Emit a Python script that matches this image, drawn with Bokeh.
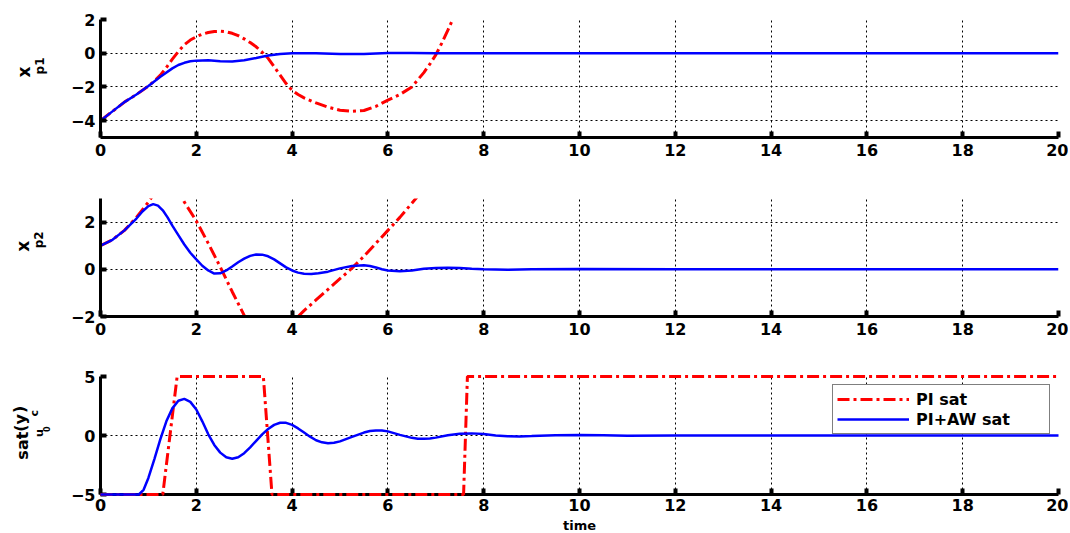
import math
from bokeh.plotting import figure
from bokeh.layouts import column, row
from bokeh.models import Range1d, Label, Legend, LegendItem, FixedTicker
from bokeh.embed import file_html
from bokeh.resources import INLINE

FONT = "DejaVu Sans"

# ---------------- data ----------------
x_ticks = [0, 2, 4, 6, 8, 10, 12, 14, 16, 18, 20]

# panel 1 : x_p1
t_p1_aw = [0, 0.25, 0.5, 0.75, 1.0, 1.25, 1.5, 1.625, 1.75, 1.875, 2.0, 2.25, 2.5, 2.75, 3.0, 3.25, 3.5, 3.75,
           4.0, 4.5, 5.0, 5.5, 6.0, 6.5, 7.0, 8, 10, 12, 14, 16, 18, 20]
xp1_aw = [-4, -3.45, -2.9, -2.45, -1.95, -1.4, -0.9, -0.7, -0.57, -0.48, -0.44, -0.42, -0.47, -0.49, -0.42, -0.28, -0.13, -0.04,
          0.0, 0.0, -0.05, -0.05, 0.02, 0.02, 0, 0, 0, 0, 0, 0, 0, 0]
t_p1_pi = [0, 0.25, 0.5, 0.75, 1.0, 1.125, 1.25, 1.375, 1.5, 1.625, 1.75, 1.875, 2.0, 2.125, 2.25, 2.375, 2.5,
           2.625, 2.75, 2.875, 3.0, 3.125, 3.25, 3.375, 3.5, 3.625, 3.75, 3.875, 4.0, 4.125, 4.25, 4.5, 4.75,
           5.0, 5.25, 5.5, 5.75, 6.0, 6.25, 6.5, 6.75, 6.875, 7.0, 7.125, 7.25, 7.375, 7.5]
xp1_pi = [-4, -3.45, -2.9, -2.45, -1.95, -1.65, -1.3, -0.85, -0.35, 0.1, 0.5, 0.78, 0.98, 1.13, 1.23, 1.29, 1.3,
          1.27, 1.18, 1.04, 0.85, 0.63, 0.38, 0.06, -0.3, -0.8, -1.3, -1.8, -2.2, -2.45, -2.65, -2.95, -3.2,
          -3.38, -3.45, -3.4, -3.15, -2.78, -2.45, -2.0, -1.15, -0.65, -0.1, 0.6, 1.35, 2.15, 2.9]

# panel 2 : x_p2
t_p2_aw = [0, 0.25, 0.5, 0.75, 0.875, 1.0, 1.1, 1.2, 1.3, 1.4, 1.5, 1.625, 1.75, 1.875, 2.0, 2.125, 2.25, 2.375,
           2.5, 2.625, 2.75, 2.875, 3.0, 3.125, 3.25, 3.375, 3.5, 3.625, 3.75, 3.875, 4.0, 4.125, 4.25, 4.4, 4.55,
           4.75, 5.0, 5.25, 5.5, 5.625, 5.75, 5.875, 6.0, 6.25, 6.5, 6.75, 7.0, 7.25, 7.5, 7.75, 8.0, 8.5, 9,
           10, 12, 14, 16, 18, 20]
xp2_aw = [1.0, 1.25, 1.65, 2.15, 2.45, 2.68, 2.76, 2.7, 2.5, 2.2, 1.85, 1.45, 1.05, 0.7, 0.42, 0.15, -0.05, -0.18,
          -0.17, -0.05, 0.12, 0.3, 0.45, 0.57, 0.63, 0.62, 0.55, 0.42, 0.25, 0.08, -0.05, -0.14, -0.19, -0.2, -0.17,
          -0.1, 0.04, 0.14, 0.17, 0.14, 0.08, 0.0, -0.05, -0.08, -0.05, 0.02, 0.06, 0.07, 0.05, 0.02, 0.0, -0.02, 0,
          0.01, 0, 0, 0, 0, 0]
t_p2_pi = [0, 0.25, 0.5, 0.75, 1.0, 1.25, 1.5, 1.75, 2.0, 2.25, 2.5, 2.75, 3.0, 3.25, 3.5, 3.75,
           4.0, 4.25, 4.5, 4.75, 5.0, 5.25, 5.5, 5.75, 6.0, 6.25, 6.5, 6.75]
xp2_pi = [1.0, 1.25, 1.65, 2.2, 2.85, 3.6, 4.0, 2.85, 2.05, 1.1, 0.1, -0.95, -1.95, -3.0, -3.3, -3.0,
          -2.25, -1.75, -1.3, -0.85, -0.4, 0.05, 0.55, 1.1, 1.65, 2.2, 2.8, 3.4]

# panel 3 : sat_u0(y_c)
t_u_aw = [0, 0.8, 0.9, 1.0, 1.125, 1.25, 1.375, 1.5, 1.625, 1.75, 1.875, 2.0, 2.125, 2.25, 2.375, 2.5, 2.625,
          2.75, 2.875, 3.0, 3.125, 3.25, 3.375, 3.5, 3.625, 3.75, 3.875, 4.0, 4.125, 4.25, 4.375, 4.5, 4.625,
          4.75, 4.875, 5.0, 5.25, 5.5, 5.625, 5.75, 5.875, 6.0, 6.25, 6.5, 6.625, 6.75, 6.875, 7.0, 7.25, 7.5,
          7.75, 8.0, 8.25, 8.5, 8.75, 9, 9.5, 10, 10.5, 11, 12, 13, 14, 16, 18, 20]
u_aw = [-5, -5, -4.6, -3.6, -2.0, -0.3, 1.2, 2.3, 2.95, 3.1, 2.85, 2.2, 1.2, 0.1, -0.8, -1.45, -1.85,
        -1.97, -1.85, -1.5, -1.0, -0.45, 0.1, 0.55, 0.9, 1.08, 1.07, 0.9, 0.6, 0.25, -0.1, -0.4, -0.58,
        -0.66, -0.62, -0.5, -0.12, 0.25, 0.38, 0.43, 0.42, 0.35, 0.05, -0.2, -0.27, -0.28, -0.25, -0.18, 0.02, 0.15,
        0.18, 0.12, 0.0, -0.07, -0.08, -0.05, 0.03, 0.05, 0.02, -0.02, 0.01, 0, 0, 0, 0, 0]
t_u_pi = [0, 1.3, 1.6, 3.4, 3.58, 7.58, 7.66, 20]
u_pi = [-5, -5, 5, 5, -5, -5, 5, 5]

RED = "#ff0000"
BLUE = "#0000ff"
RED_DASH = "12 4 3 4"
LABW = 58          # width of the strip that holds the y-axis titles
TOTW = 1068


def make_fig(height, top, bottom, yr, yticks, standoff=6):
    p = figure(width=TOTW - LABW, height=height, x_range=Range1d(0, 20), y_range=Range1d(*yr),
               output_backend="svg", toolbar_location=None,
               min_border_left=100 - LABW, min_border_right=10,
               min_border_top=top, min_border_bottom=bottom)
    p.outline_line_color = None
    p.background_fill_color = "white"
    p.border_fill_color = "white"
    p.xaxis.ticker = FixedTicker(ticks=x_ticks)
    p.yaxis.ticker = FixedTicker(ticks=yticks)
    for ax in (p.xaxis[0], p.yaxis[0]):
        ax.axis_line_width = 3
        ax.axis_line_color = "black"
        ax.major_tick_in = 6
        ax.major_tick_out = 0
        ax.major_tick_line_width = 4
        ax.major_tick_line_color = "black"
        ax.minor_tick_line_color = None
        ax.major_label_text_font = FONT
        ax.major_label_text_font_style = "bold"
        ax.major_label_text_font_size = "16px"
        ax.major_label_text_color = "black"
    p.xaxis.major_label_standoff = standoff
    p.yaxis.major_label_standoff = 5
    p.yaxis.major_label_overrides = {v: ("\u2212%d" % -v if v < 0 else str(v)) for v in yticks}
    p.grid.grid_line_color = "black"
    p.grid.grid_line_dash = "2 3"
    p.grid.grid_line_width = 1
    return p


def label_fig(height, width=LABW):
    f = figure(width=width, height=height, x_range=Range1d(0, width), y_range=Range1d(0, height),
               output_backend="svg", toolbar_location=None, x_axis_type=None, y_axis_type=None,
               min_border=0, min_border_left=0, min_border_right=0, min_border_top=0, min_border_bottom=0)
    f.outline_line_color = None
    f.grid.visible = False
    f.background_fill_color = "white"
    f.border_fill_color = "white"
    return f


def ylab(f, x, y, text, size):
    f.add_layout(Label(x=x, y=y, text=text, angle=math.pi / 2, text_align="center",
                       text_baseline="middle", text_font=FONT, text_font_style="bold",
                       text_font_size=size, text_color="black"))


# panel 1
H1 = 193
p1 = make_fig(H1, 19, 56, (-5, 2), [-4, -2, 0, 2])
p1.line(t_p1_pi, xp1_pi, line_color=RED, line_width=3, line_dash=RED_DASH)
p1.line(t_p1_aw, xp1_aw, line_color=BLUE, line_width=2.5)
l1 = label_fig(H1)
ylab(l1, 23.5, 107, "x", "17px")
ylab(l1, 39, 117, "p1", "12px")

# panel 2
H2 = 173
p2 = make_fig(H2, 5, 50, (-2, 3), [-2, 0, 2])
p2.line(t_p2_pi, xp2_pi, line_color=RED, line_width=3, line_dash=RED_DASH)
p2.line(t_p2_aw, xp2_aw, line_color=BLUE, line_width=2.5)
l2 = label_fig(H2)
ylab(l2, 22, 103, "x", "17px")
ylab(l2, 38.5, 112.5, "p2", "12px")

# panel 3
H3 = 151
p3 = make_fig(H3, 10, 23, (-5, 5), [-5, 0, 5], standoff=4)
r_red = p3.line(t_u_pi, u_pi, line_color=RED, line_width=3, line_dash=RED_DASH, level="overlay")
r_blue = p3.line(t_u_aw, u_aw, line_color=BLUE, line_width=2.5, level="overlay")
l3 = label_fig(H3)
ylab(l3, 22, 62.5, "sat", "16px")
ylab(l3, 38.5, 78.5, "u", "11px")
ylab(l3, 45.5, 83.5, "0", "8px")
ylab(l3, 20, 91.5, "(y", "16px")
ylab(l3, 33.5, 104, "c", "11px")
ylab(l3, 19, 109, ")", "16px")

legend = Legend(items=[LegendItem(label="PI sat", renderers=[r_red]),
                       LegendItem(label="PI+AW sat", renderers=[r_blue])],
                location="top_right", margin=8, padding=4, spacing=0,
                glyph_width=72, glyph_height=20, label_height=20, label_width=129, label_standoff=7,
                border_line_color="black", border_line_width=1.5,
                background_fill_color="white", background_fill_alpha=1,
                label_text_font=FONT, label_text_font_style="bold", label_text_font_size="16px",
                label_text_color="black")
p3.add_layout(legend)

# x-axis title strip
HS = 16
strip = label_fig(HS, width=TOTW)
strip.add_layout(Label(x=579, y=0.5, text="time", text_align="center", text_baseline="bottom",
                       text_font=FONT, text_font_style="bold", text_font_size="13px", text_color="black"))

layout = column(row(l1, p1, spacing=0), row(l2, p2, spacing=0), row(l3, p3, spacing=0), strip, spacing=0)
open("out.html", "w").write(file_html(layout, INLINE))
